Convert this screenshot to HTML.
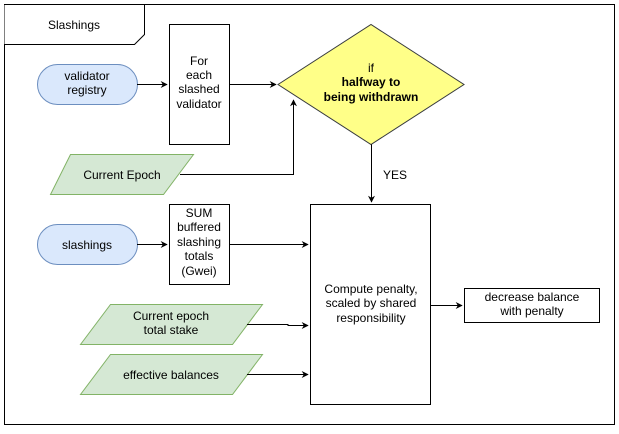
<!DOCTYPE html>
<html><head><style>body{margin:0;background:#fff}</style></head><body>
<svg width="619" height="429" viewBox="0 0 619 429" xmlns="http://www.w3.org/2000/svg" font-family="Liberation Sans, sans-serif" font-size="12" text-anchor="middle">
<defs><marker id="a" viewBox="0 0 10 10" refX="9" refY="5" markerWidth="7" markerHeight="7" orient="auto"><path d="M0,0 L10,5 L0,10 L3,5 Z" fill="#000"/></marker></defs>
<rect x="4.5" y="4.5" width="610" height="420" fill="#fff" stroke="#000"/>
<path d="M4.5,4.5 H144.5 V34.5 L134.5,44.5 H4.5" fill="#fff" stroke="#000"/>
<text x="74" y="29">Slashings</text>
<rect x="37.5" y="64.5" width="100" height="40" rx="20" fill="#dae8fc" stroke="#6c8ebf"/>
<text x="87" y="80">validator</text><text x="87" y="94">registry</text>
<rect x="169.5" y="24.5" width="60" height="120" fill="#fff" stroke="#000"/>
<text x="199" y="65">For</text><text x="199" y="79">each</text><text x="199" y="93">slashed</text><text x="199" y="108">validator</text>
<path d="M278,84.5 L371,24.5 L464,84.5 L371,144.5 Z" fill="#ffff88" stroke="#36393d"/>
<text x="371" y="72">if</text><text x="371" y="86" font-weight="bold">halfway to</text><text x="371" y="101" font-weight="bold">being withdrawn</text>
<path d="M70.5,154.5 H193.5 L163.5,194.5 H50.5 Z" fill="#d5e8d4" stroke="#82b366"/>
<text x="122" y="179">Current Epoch</text>
<line x1="137" y1="84.5" x2="167" y2="84.5" stroke="#000" marker-end="url(#a)"/>
<line x1="230" y1="84.5" x2="276" y2="84.5" stroke="#000" marker-end="url(#a)"/>
<path d="M180,174.5 H293.5 V100" fill="none" stroke="#000" marker-end="url(#a)"/>
<line x1="371.5" y1="144.5" x2="371.5" y2="202" stroke="#000" marker-end="url(#a)"/>
<text x="395" y="179">YES</text>
<rect x="37.5" y="224.5" width="100" height="40" rx="20" fill="#dae8fc" stroke="#6c8ebf"/>
<text x="87" y="249">slashings</text>
<rect x="169.5" y="204.5" width="60" height="80" fill="#fff" stroke="#000"/>
<text x="199" y="217">SUM</text><text x="199" y="231">buffered</text><text x="199" y="246">slashing</text><text x="199" y="260">totals</text><text x="199" y="275">(Gwei)</text>
<line x1="137" y1="244.5" x2="167" y2="244.5" stroke="#000" marker-end="url(#a)"/>
<line x1="230" y1="244.5" x2="308" y2="244.5" stroke="#000" marker-end="url(#a)"/>
<rect x="310.5" y="204.5" width="120" height="200" fill="#fff" stroke="#000"/>
<text x="371" y="293">Compute penalty,</text><text x="371" y="307">scaled by shared</text><text x="371" y="322">responsibility</text>
<path d="M110.5,304.5 H262.5 L232.5,344.5 H80.5 Z" fill="#d5e8d4" stroke="#82b366"/>
<text x="171" y="320">Current epoch</text><text x="171" y="334">total stake</text>
<path d="M247,324.5 H288 V325.5 H308" fill="none" stroke="#000" marker-end="url(#a)"/>
<path d="M110.5,354.5 H262.5 L232.5,394.5 H80.5 Z" fill="#d5e8d4" stroke="#82b366"/>
<text x="171" y="379">effective balances</text>
<line x1="247" y1="374.5" x2="308" y2="374.5" stroke="#000" marker-end="url(#a)"/>
<rect x="464.5" y="288.5" width="135" height="34" fill="#fff" stroke="#000"/>
<text x="532" y="301">decrease balance</text><text x="532" y="315">with penalty</text>
<line x1="431" y1="305.5" x2="462" y2="305.5" stroke="#000" marker-end="url(#a)"/>
</svg>
</body></html>
